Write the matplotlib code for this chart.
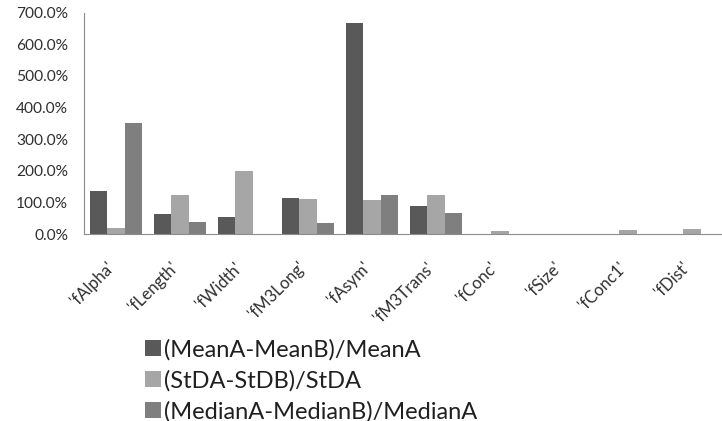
import matplotlib.pyplot as plt
import numpy as np
from matplotlib.ticker import FuncFormatter
import matplotlib.transforms as mtransforms

plt.rcParams['font.family'] = ['Lato', 'DejaVu Sans']

features = ["'fAlpha'", "'fLength'", "'fWidth'", "'fM3Long'", "'fAsym'",
            "'fM3Trans'", "'fConc'", "'fSize'", "'fConc1'", "'fDist'"]

# relative differences in percent
mean_diff = [137, 65, 56, 116, 667, 89, 0, 2, 0, 2]
std_diff = [20, 124, 200, 110, 107, 124, 9, 2, 13, 18]
median_diff = [350, 39, 0, 35, 124, 68, 0, 0, 0, 1]

series_names = ['(MeanA-MeanB)/MeanA', '(StDA-StDB)/StDA', '(MedianA-MedianB)/MedianA']
colors = ['#595959', '#a6a6a6', '#7f7f7f']

fig = plt.figure(figsize=(7.22, 4.21), dpi=100)
ax = fig.add_axes([84/722, 1 - 234.3/421, 640/722, 221.8/421])

x = np.arange(len(features))
w = 0.8 / 3
bars = []
for i, (vals, c) in enumerate(zip([mean_diff, std_diff, median_diff], colors)):
    b = ax.bar(x + (i - 1) * w, vals, width=w, color=c, label=series_names[i])
    bars.append(b)

ax.set_xlim(-0.5, 9.5)
ax.set_ylim(0, 700)
ax.set_yticks(np.arange(0, 701, 100))
ax.yaxis.set_major_formatter(FuncFormatter(lambda v, p: '%.1f%%' % v))

for s in ['top', 'right']:
    ax.spines[s].set_visible(False)
ax.spines['left'].set_color('#8c8c8c')
ax.spines['bottom'].set_color('#8c8c8c')

ax.tick_params(axis='y', length=0, pad=11.5, labelsize=11.2, labelcolor='#303030')
ax.tick_params(axis='x', length=0, pad=18, labelsize=12, labelcolor='#303030')
ax.set_xticks(x)
ax.set_xticklabels(features, rotation=45, ha='right')
offset = mtransforms.ScaledTranslation(1/100, 0, fig.dpi_scale_trans)
for lbl in ax.get_xticklabels():
    lbl.set_transform(lbl.get_transform() + offset)

fig.legend(handles=bars, loc='upper left', bbox_to_anchor=(145/722, 1 - 339/421),
           frameon=False, fontsize=17, handlelength=0.68, handleheight=0.68,
           handletextpad=0.12, labelspacing=0.4, borderpad=0, borderaxespad=0,
           labelcolor='#202020')

fig.savefig('out.png', dpi=100)
